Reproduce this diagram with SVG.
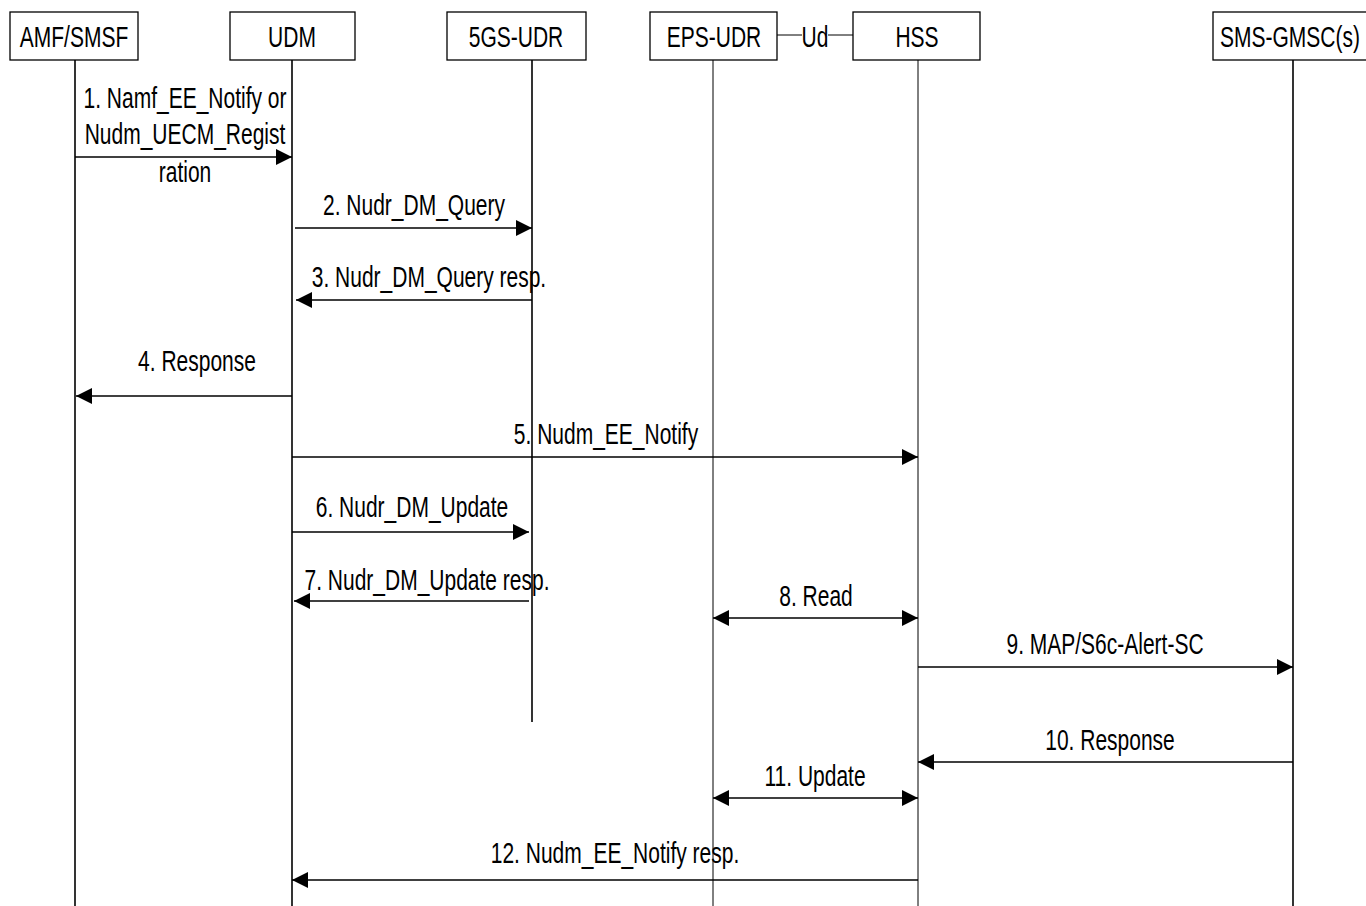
<svg xmlns="http://www.w3.org/2000/svg" width="1366" height="906" viewBox="0 0 1366 906">
<style>
text{font-family:"Liberation Sans",Arial,sans-serif;font-size:30px;fill:#000;text-anchor:middle}
.box{fill:#fff;stroke:#000;stroke-width:1.3}
.life{stroke:#000;stroke-width:1.6;fill:none}
.thin{stroke:#000;stroke-width:1;fill:none}
.msg{stroke:#000;stroke-width:1.5;fill:none}
</style>
<defs>
<marker id="ah" markerUnits="userSpaceOnUse" markerWidth="17" markerHeight="17" refX="16" refY="8" orient="auto-start-reverse">
<path d="M0,0 L16,8 L0,16 z" fill="#000"/>
</marker>
</defs>
<rect width="1366" height="906" fill="#fff"/>
<g id="node-amf">
<rect class="box" x="10" y="12" width="128" height="48"/>
<line class="life" x1="75" y1="60" x2="75" y2="906"/>
<text transform="translate(74,47) scale(0.7,1)">AMF/SMSF</text>
</g>
<g id="node-udm">
<rect class="box" x="230" y="12" width="125" height="48"/>
<line class="life" x1="292" y1="60" x2="292" y2="906"/>
<text transform="translate(292,47) scale(0.7,1)">UDM</text>
</g>
<g id="node-5gsudr">
<rect class="box" x="447" y="12" width="139" height="48"/>
<line class="life" x1="532" y1="60" x2="532" y2="722"/>
<text transform="translate(516,47) scale(0.7,1)">5GS-UDR</text>
</g>
<g id="node-epsudr">
<rect class="box" x="650" y="12" width="127" height="48"/>
<line class="thin" x1="713" y1="60" x2="713" y2="906"/>
<text transform="translate(714,47) scale(0.7,1)">EPS-UDR</text>
</g>
<g id="node-hss">
<rect class="box" x="853" y="12" width="127" height="48"/>
<line class="thin" x1="918" y1="60" x2="918" y2="906"/>
<text transform="translate(917,47) scale(0.7,1)">HSS</text>
</g>
<g id="node-smsgmsc">
<rect class="box" x="1213" y="12" width="160" height="48"/>
<line class="life" x1="1293" y1="60" x2="1293" y2="906"/>
<text transform="translate(1290,47) scale(0.7,1)">SMS-GMSC(s)</text>
</g>
<g id="connectors">
<line class="thin" x1="777" y1="35" x2="802" y2="35"/>
<line class="thin" x1="828" y1="35" x2="853" y2="35"/>
<text transform="translate(815,47) scale(0.7,1)">Ud</text>
<line class="msg" x1="75" y1="157" x2="292" y2="157" marker-end="url(#ah)"/>
<text transform="translate(185,108) scale(0.7,1)">1. Namf_EE_Notify or</text>
<text transform="translate(185,144) scale(0.7,1)">Nudm_UECM_Regist</text>
<text transform="translate(185,182) scale(0.7,1)">ration</text>
<line class="msg" x1="295" y1="228" x2="532" y2="228" marker-end="url(#ah)"/>
<text transform="translate(414,215) scale(0.7,1)">2. Nudr_DM_Query</text>
<line class="msg" x1="532" y1="300" x2="296" y2="300" marker-end="url(#ah)"/>
<text transform="translate(429,287) scale(0.7,1)">3. Nudr_DM_Query resp.</text>
<line class="msg" x1="292" y1="396" x2="76" y2="396" marker-end="url(#ah)"/>
<text transform="translate(197,371) scale(0.7,1)">4. Response</text>
<line class="msg" x1="292" y1="457" x2="918" y2="457" marker-end="url(#ah)"/>
<text transform="translate(606,444) scale(0.7,1)">5. Nudm_EE_Notify</text>
<line class="msg" x1="292" y1="532" x2="529" y2="532" marker-end="url(#ah)"/>
<text transform="translate(412,517) scale(0.7,1)">6. Nudr_DM_Update</text>
<line class="msg" x1="529" y1="601" x2="294" y2="601" marker-end="url(#ah)"/>
<text transform="translate(427,590) scale(0.7,1)">7. Nudr_DM_Update resp.</text>
<line class="msg" x1="713" y1="618" x2="918" y2="618" marker-start="url(#ah)" marker-end="url(#ah)"/>
<text transform="translate(816,606) scale(0.7,1)">8. Read</text>
<line class="msg" x1="918" y1="667" x2="1293" y2="667" marker-end="url(#ah)"/>
<text transform="translate(1105,654) scale(0.7,1)">9. MAP/S6c-Alert-SC</text>
<line class="msg" x1="1293" y1="762" x2="918" y2="762" marker-end="url(#ah)"/>
<text transform="translate(1110,750) scale(0.7,1)">10. Response</text>
<line class="msg" x1="713" y1="798" x2="918" y2="798" marker-start="url(#ah)" marker-end="url(#ah)"/>
<text transform="translate(815,786) scale(0.7,1)">11. Update</text>
<line class="msg" x1="918" y1="880" x2="292" y2="880" marker-end="url(#ah)"/>
<text transform="translate(615,863) scale(0.7,1)">12. Nudm_EE_Notify resp.</text>
</g>
</svg>
